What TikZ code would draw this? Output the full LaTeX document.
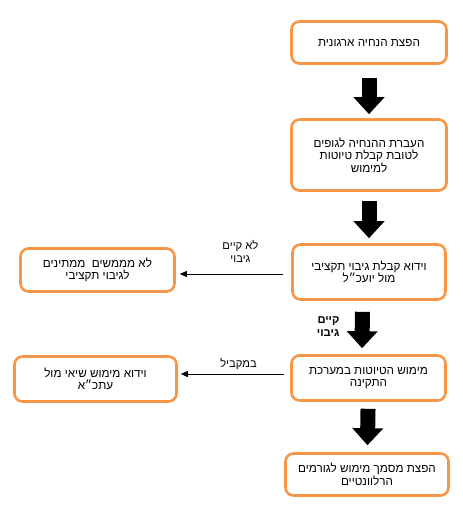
\documentclass[tikz,border=0pt]{standalone}
\usepackage{fontspec}
\setmainfont{Liberation Sans}
\newfontfamily\hebfont[Script=Hebrew]{Liberation Sans}
\TeXXeTstate=1
\usetikzlibrary{arrows.meta, positioning}
\definecolor{boxorange}{HTML}{F79646}
\newcommand{\heb}[1]{\beginR #1\endR}

\begin{document}
\begin{tikzpicture}[x=1pt, y=-1pt,
  box/.style={draw=boxorange, line width=2.6pt, rounded corners=8pt, fill=white,
    inner sep=0pt, align=center, font=\hebfont\fontsize{11.7}{12.5}\selectfont},
  bigarrow/.style={line width=15pt, -{Triangle[width=30pt, length=17pt]}},
  arrow/.style={-{Triangle[length=7pt, width=6pt]}, line width=0.8pt},
  lbl/.style={font=\hebfont\fontsize{11.2}{12.8}\selectfont, align=center}
]
  \useasboundingbox (0,0) rectangle (463,512);

  \node[box, minimum width=155pt, minimum height=42pt] (dist) at (369,42.5) {\heb{הפצת הנחיה ארגונית}};
  \node[box, minimum width=155pt, minimum height=71pt] (transfer) at (369,155) {\heb{העברת ההנחיה לגופים}\\\heb{לטובת קבלת טיוטות}\\\heb{למימוש}};
  \node[box, minimum width=153pt, minimum height=55pt] (check) at (369,272) {\heb{וידוא קבלת גיבוי תקציבי}\\\heb{מול יועכ״ל}};
  \node[box, minimum width=154pt, minimum height=43pt] (wait) at (97.5,270) {\heb{לא מממשים~~ממתינים}\\\heb{לגיבוי תקציבי}};
  \node[box, minimum width=154pt, minimum height=45pt] (impl) at (368.5,378) {\heb{מימוש הטיוטות במערכת}\\\heb{התקינה}};
  \node[box, minimum width=162pt, minimum height=45pt] (parallel) at (95.5,379) {\heb{וידוא מימוש שיאי מול}\\\heb{עתכ״א}};
  \node[box, minimum width=163pt, minimum height=42pt] (publish) at (367,474.5) {\heb{הפצת מסמך מימוש לגורמים}\\\heb{הרלוונטיים}};

  % main flow
  \draw[bigarrow, shorten <=13pt, shorten >=4pt] (dist) -- (transfer);
  \draw[bigarrow, shorten <=9pt, shorten >=5pt] (transfer) -- (check);
  \draw[bigarrow, shorten <=11pt, shorten >=6pt] ([xshift=-6.5pt]check.south) -- node[lbl, left=12pt, pos=0.48, align=right, font=\hebfont\bfseries\fontsize{11.2}{12.5}\selectfont]{\heb{קיים}\\\heb{גיבוי}} ([xshift=-6.5pt]impl.north);
  \draw[bigarrow, shorten <=7pt, shorten >=7pt] (impl) -- (publish);

  % side branches
  \draw[arrow, shorten <=8pt, shorten >=4pt] ([yshift=-2pt]check.west) -- node[lbl, above=8pt, pos=0.44]{\heb{לא קיים}\\\heb{גיבוי}} ([yshift=-2pt]check.west -| wait.east);
  \draw[arrow, shorten <=6pt, shorten >=3pt] ([yshift=4pt]impl.west) -- node[lbl, above=1pt, pos=0.46]{\heb{במקביל}} ([yshift=4pt]impl.west -| parallel.east);
\end{tikzpicture}
\end{document}
